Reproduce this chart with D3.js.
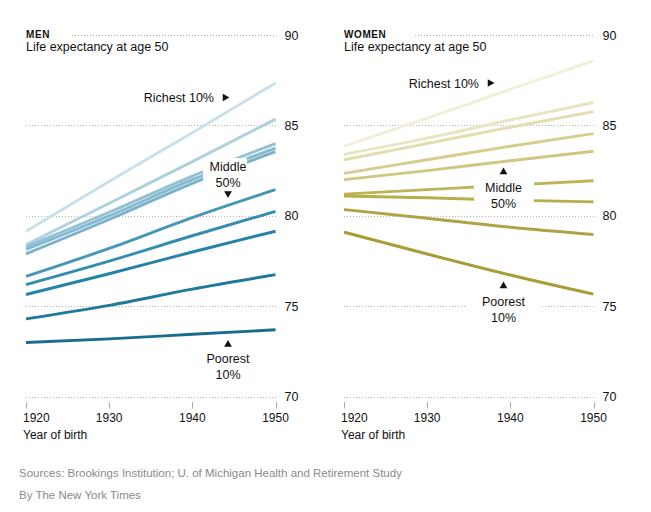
<!DOCTYPE html>
<html>
<head>
<meta charset="utf-8">
<script src="https://cdn.jsdelivr.net/npm/d3@7/dist/d3.min.js"></script>
<style>
  html, body { margin: 0; padding: 0; background: #fff; }
  svg { display: block; font-family: "Liberation Sans", Arial, sans-serif; }
</style>
</head>
<body>
<svg id="chart" width="651" height="512"></svg>
<script>
// ---- Data ----
const years = [1920, 1930, 1940, 1950];
const yTicks = [70, 75, 80, 85, 90];
const xTicks = [1920, 1930, 1940, 1950];

// Men, life expectancy at age 50, richest -> poorest
const menSeries = [
  [79.15, 81.9, 84.6, 87.35],
  [78.4, 80.7, 83.0, 85.35],
  [78.3, 80.2, 82.2, 84.0],
  [78.15, 80.0, 82.0, 83.75],
  [77.9, 79.8, 81.8, 83.55],
  [76.65, 78.2, 79.9, 81.45],
  [76.2, 77.5, 78.9, 80.25],
  [75.65, 76.8, 78.0, 79.15],
  [74.3, 75.05, 75.95, 76.75],
  [73.0, 73.2, 73.45, 73.7]
];
const menColors = ["#c9e0eb", "#aed1e1", "#92c1d6", "#86b9d0", "#7ab2cb",
                   "#4597b7", "#338db0", "#2483a6", "#1e799b", "#186c8d"];

// Women, life expectancy at age 50, richest -> poorest
const womenSeries = [
  [83.85, 85.4, 87.0, 88.57],
  [83.4, 84.3, 85.3, 86.27],
  [83.1, 84.0, 84.9, 85.76],
  [82.35, 83.1, 83.85, 84.55],
  [82.0, 82.5, 83.05, 83.57],
  [81.2, 81.45, 81.7, 81.94],
  [81.1, 81.0, 80.87, 80.77],
  [80.35, 79.87, 79.37, 78.97],
  [79.1, 77.89, 76.73, 75.67]
];
const womenColors = ["#f1efd6", "#e9e5c0", "#e2deb0", "#d5ce8c", "#cfc880",
                     "#bdb457", "#b6ad4b", "#aea444", "#a69d37"];

const svg = d3.select("#chart");
svg.append("rect").attr("width", 651).attr("height", 512).attr("fill", "#fff");

function panel(opts) {
  const g = svg.append("g");
  const x = d3.scaleLinear().domain([1920, 1950]).range([opts.x0, opts.x0 + 249.5]);
  const y = d3.scaleLinear().domain([70, 90]).range([396.7, 35]);

  // gridlines
  yTicks.forEach(t => {
    g.append("line")
      .attr("x1", t === 90 ? opts.titleEnd : x(1920))
      .attr("x2", x(1950) + 1)
      .attr("y1", Math.round(y(t)) + 0.5).attr("y2", Math.round(y(t)) + 0.5)
      .attr("stroke", "#b5b5b5").attr("stroke-width", 1)
      .attr("stroke-dasharray", "1,2");
    g.append("text")
      .attr("x", x(1950) + 9).attr("y", y(t) + 4.5)
      .attr("font-size", 12.5).attr("fill", "#111")
      .text(t);
  });

  // x ticks
  xTicks.forEach((t, i) => {
    g.append("line")
      .attr("x1", Math.round(x(t)) + 0.5).attr("x2", Math.round(x(t)) + 0.5)
      .attr("y1", 402).attr("y2", 408.5)
      .attr("stroke", "#aaa").attr("stroke-width", 1);
    g.append("text")
      .attr("x", i === 0 ? x(t) - 3 : x(t))
      .attr("y", 421.5)
      .attr("text-anchor", i === 0 ? "start" : "middle")
      .attr("font-size", 12).attr("fill", "#111")
      .text(t);
  });
  g.append("text").attr("x", x(1920) - 3).attr("y", 439)
    .attr("font-size", 12).attr("fill", "#111").text("Year of birth");

  // titles
  g.append("text").attr("x", x(1920)).attr("y", 38)
    .attr("font-size", 10).attr("font-weight", "bold").attr("letter-spacing", 0.6)
    .attr("fill", "#111").text(opts.title);
  g.append("text").attr("x", x(1920)).attr("y", 51)
    .attr("font-size", 12.5).attr("fill", "#111").text("Life expectancy at age 50");

  // lines
  const line = d3.line()
    .x((d, i) => x(years[i]))
    .y(d => y(d))
    .curve(d3.curveMonotoneX);
  g.selectAll("path.series").data(opts.series).enter().append("path")
    .attr("class", "series")
    .attr("d", line)
    .attr("fill", "none")
    .attr("stroke", (d, i) => opts.colors[i])
    .attr("stroke-width", 2.9)
    .attr("stroke-linecap", "butt");

  // labels
  opts.labels.forEach(l => {
    const lg = g.append("g");
    if (l.bg) {
      lg.append("rect")
        .attr("x", l.bg[0]).attr("y", l.bg[1]).attr("width", l.bg[2]).attr("height", l.bg[3])
        .attr("fill", "#fff");
    }
    l.lines.forEach((t, k) => {
      lg.append("text")
        .attr("x", l.x).attr("y", l.y + k * 15.5)
        .attr("text-anchor", l.anchor || "middle")
        .attr("font-size", 12.5).attr("fill", "#111")
        .text(t);
    });
    if (l.tri) {
      const [tx, ty, dir] = l.tri;
      const sym = d3.symbol().type(d3.symbolTriangle).size(26);
      const rot = dir === "up" ? 0 : dir === "down" ? 180 : 90;
      lg.append("path").attr("d", sym())
        .attr("transform", `translate(${tx},${ty}) rotate(${rot})`)
        .attr("fill", "#111");
    }
  });
}

panel({
  x0: 26, title: "MEN", titleEnd: 72,
  series: menSeries, colors: menColors,
  labels: [
    { x: 214, y: 102, anchor: "end", lines: ["Richest 10%"], tri: [225, 97.5, "right"] },
    { x: 228, y: 171, lines: ["Middle", "50%"], bg: [203, 158, 44, 30], tri: [228, 193.5, "down"] },
    { x: 228, y: 363, lines: ["Poorest", "10%"], tri: [228, 344.5, "up"] }
  ]
});

panel({
  x0: 344, title: "WOMEN", titleEnd: 415,
  series: womenSeries, colors: womenColors,
  labels: [
    { x: 479, y: 88, anchor: "end", lines: ["Richest 10%"], tri: [490, 83, "right"] },
    { x: 503.5, y: 192, lines: ["Middle", "50%"], bg: [474, 178, 60, 32], tri: [503.5, 172, "up"] },
    { x: 503.5, y: 306, lines: ["Poorest", "10%"], bg: [465, 294, 75, 28], tri: [503.5, 286, "up"] }
  ]
});

// footer
svg.append("text").attr("x", 19).attr("y", 477)
  .attr("font-size", 11.5).attr("fill", "#8a8a8a")
  .text("Sources: Brookings Institution; U. of Michigan Health and Retirement Study");
svg.append("text").attr("x", 19).attr("y", 499)
  .attr("font-size", 11.5).attr("fill", "#8a8a8a")
  .text("By The New York Times");
</script>
</body>
</html>
